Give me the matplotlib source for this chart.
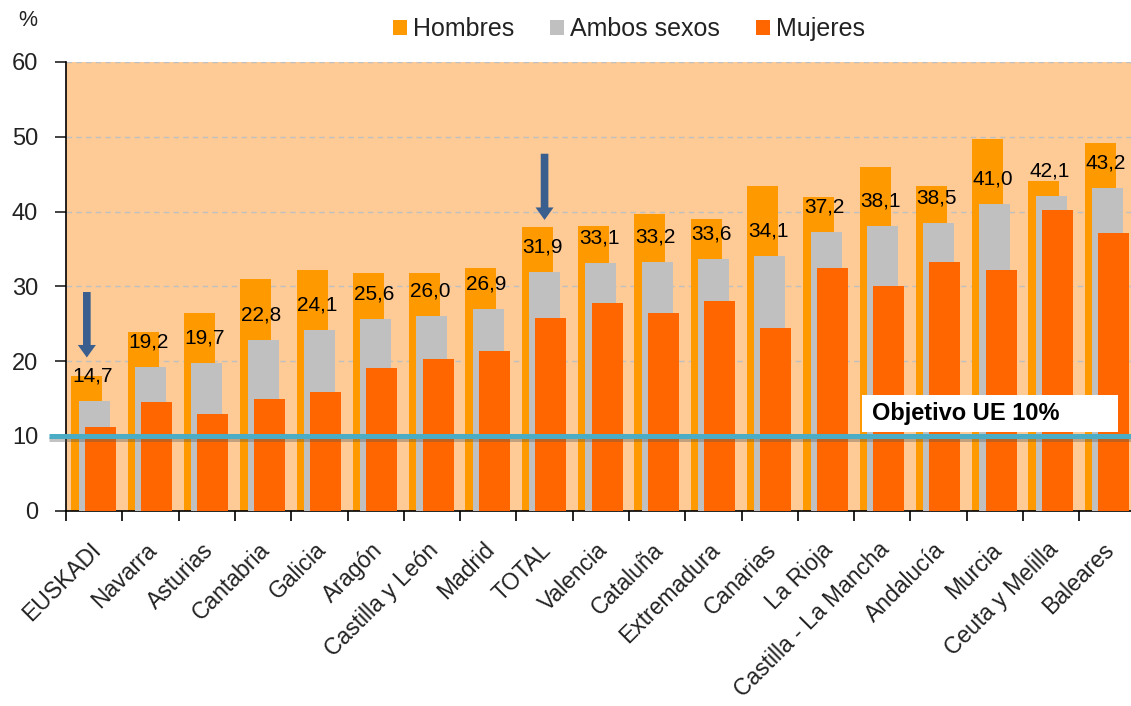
import matplotlib
matplotlib.use("Agg")
import matplotlib.pyplot as plt
import matplotlib.patheffects as pe
import matplotlib.transforms as mtransforms
from matplotlib.patches import Rectangle
import numpy as np

plt.rcParams['font.family'] = ['Liberation Sans', 'DejaVu Sans']

categorias = ["EUSKADI", "Navarra", "Asturias", "Cantabria", "Galicia", "Aragón",
              "Castilla y León", "Madrid", "TOTAL", "Valencia", "Cataluña", "Extremadura",
              "Canarias", "La Rioja", "Castilla - La Mancha", "Andalucía", "Murcia",
              "Ceuta y Melilla", "Baleares"]
hombres = [18.0, 23.9, 26.4, 31.0, 32.2, 31.8, 31.8, 32.5, 37.9, 38.1, 39.6, 39.0,
           43.4, 41.9, 45.9, 43.4, 49.7, 44.1, 49.2]
ambos = [14.7, 19.2, 19.7, 22.8, 24.1, 25.6, 26.0, 26.9, 31.9, 33.1, 33.2, 33.6,
         34.1, 37.2, 38.1, 38.5, 41.0, 42.1, 43.2]
mujeres = [11.2, 14.5, 12.9, 14.9, 15.8, 19.1, 20.3, 21.4, 25.7, 27.7, 26.4, 28.0,
           24.4, 32.4, 30.0, 33.3, 32.2, 40.2, 37.1]
objetivo = 10
etiquetas_ambos = [f"{v:.1f}".replace(".", ",") for v in ambos]

W, H = 1131, 706
fig = plt.figure(figsize=(W / 100, H / 100), dpi=100)
ax = fig.add_axes([66 / W, (H - 510.5) / H, 1069.7 / W, 448.5 / H])
ax.set_facecolor("#FECA96")

x = np.arange(len(categorias))
bw = 0.55
ax.bar(x - 0.13, hombres, width=bw, color="#FF9900", zorder=2, label="Hombres")
ax.bar(x, ambos, width=bw, color="#C0C0C0", zorder=3, label="Ambos sexos")
ax.bar(x + 0.11, mujeres, width=bw, color="#FF6600", zorder=4, label="Mujeres")

for xi, v, t in zip(x, ambos, etiquetas_ambos):
    ax.annotate(t, (xi - 0.03, v), xytext=(0, 18), textcoords="offset points",
                ha="center", va="center", fontsize=15, color="black", zorder=6)

ax.set_xlim(-0.5, len(categorias) - 0.5)
ax.set_ylim(0, 60)
ax.set_yticks(range(0, 61, 10))
ax.yaxis.grid(True, linestyle=(0, (4, 3)), color="#C0C0C0", linewidth=1, zorder=1)
ax.set_axisbelow(True)
ax.tick_params(axis="y", labelsize=17, length=8, width=1.2, direction="out", pad=12,
               colors="#222222")

ax.set_xticks(np.arange(-0.5, len(categorias), 1.0))
ax.set_xticklabels([])
ax.tick_params(axis="x", which="major", length=7, width=1.2, direction="out")
ax.set_xticks(x, minor=True)
ax.set_xticklabels(categorias, minor=True, rotation=45, ha="right",
                   rotation_mode="anchor", fontsize=16.5, color="#222222")
ax.tick_params(axis="x", which="minor", length=0, pad=20)
shift = mtransforms.ScaledTranslation(-5 / 100, 0, fig.dpi_scale_trans)
for lab in ax.get_xticklabels(minor=True):
    lab.set_transform(lab.get_transform() + shift)

for s in ["top", "right"]:
    ax.spines[s].set_visible(False)
ax.spines["left"].set_linewidth(1.2)
ax.spines["bottom"].set_linewidth(1.2)

# objetivo line
ax.plot([-0.8, len(categorias) - 0.5], [objetivo, objetivo], color="#4BACC6", lw=3.6,
        zorder=7, clip_on=False, solid_capstyle="butt",
        path_effects=[pe.SimpleLineShadow(offset=(0, -2), alpha=0.35, shadow_color="#555555"),
                      pe.Normal()])
ax.add_patch(Rectangle((13.64, 10.5), 4.55, 4.95, facecolor="white", edgecolor="none",
                       zorder=8))
ax.text(13.82, 12.95, "Objetivo UE 10%", fontsize=17, fontweight="bold", va="center",
        ha="left", zorder=9)

# arrows
arrow_kw = dict(arrowstyle="simple,head_length=0.9,head_width=1.3,tail_width=0.55",
                color="#3A5F8F", lw=0)
ax.annotate("", xy=(-0.13, 20.1), xytext=(-0.13, 29.6), arrowprops=arrow_kw, zorder=9)
ax.annotate("", xy=(8.0, 38.5), xytext=(8.0, 48.1), arrowprops=arrow_kw, zorder=9)

fig.text(28 / W, 1 - 21 / H, "%", fontsize=15.5, ha="center", va="center", color="#222222")
fig.legend(loc="center", bbox_to_anchor=(629 / W, 1 - 29 / H), ncol=3, frameon=False,
           fontsize=18, handlelength=0.56, handleheight=0.56, handletextpad=0.24,
           columnspacing=1.45, labelcolor="#222222")

fig.savefig("out.png", dpi=100)
